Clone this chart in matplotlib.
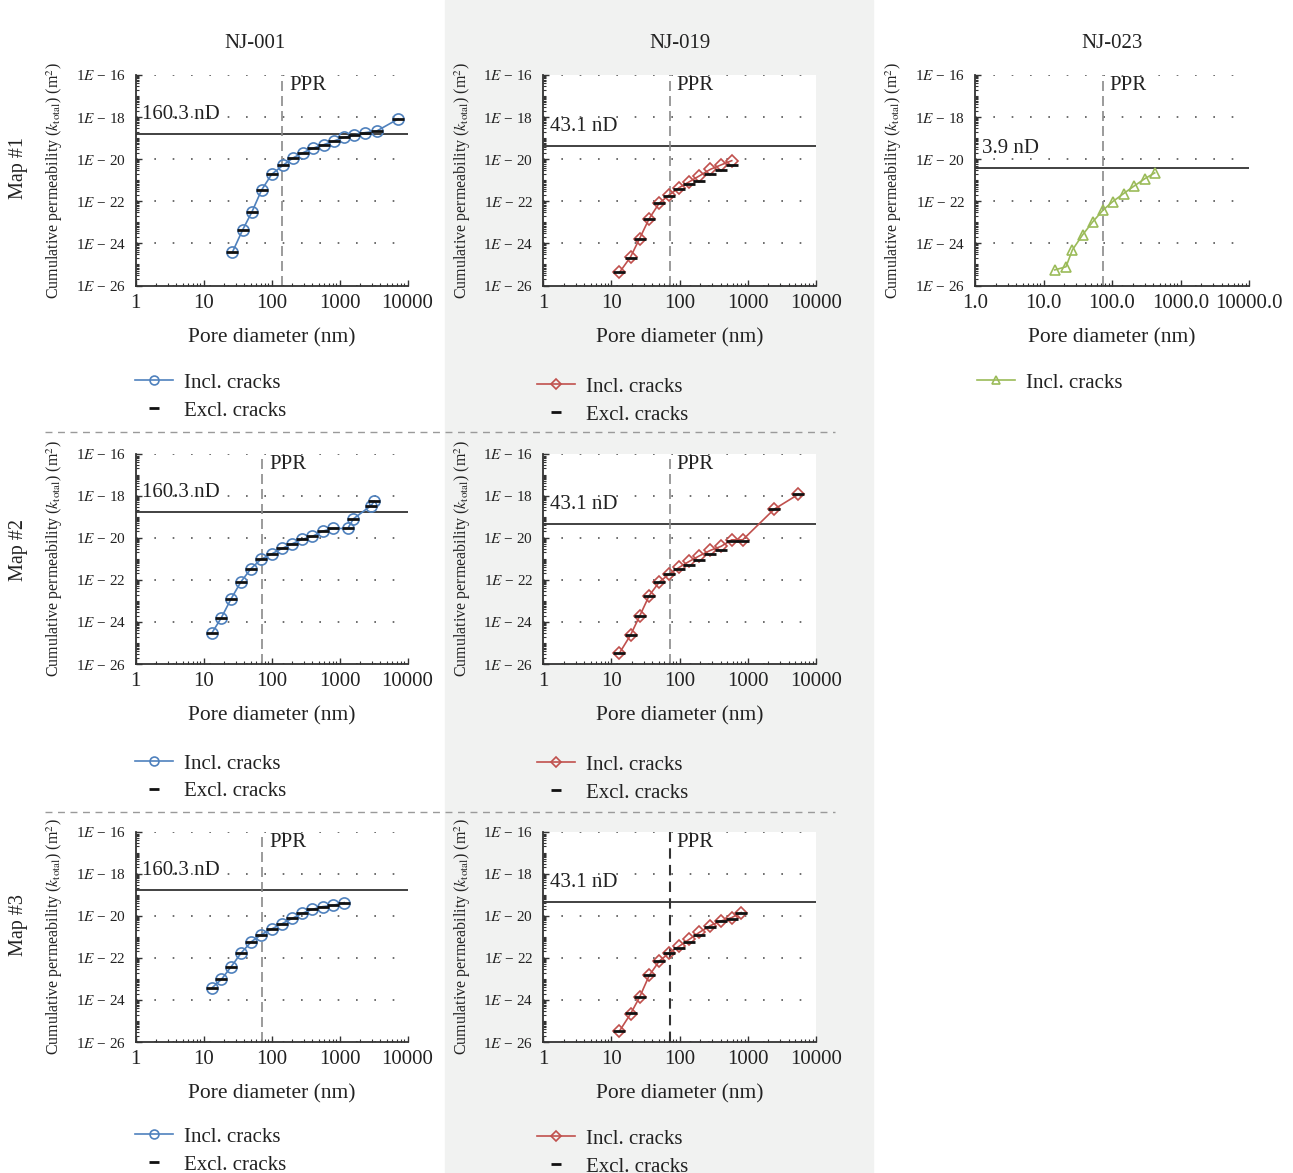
import numpy as np
import matplotlib
matplotlib.use("Agg")
import matplotlib.pyplot as plt
from matplotlib.ticker import FixedLocator, LogLocator, FuncFormatter, NullFormatter
from matplotlib.patches import Rectangle
from matplotlib.lines import Line2D

plt.rcParams['font.family'] = ['Liberation Serif', 'DejaVu Serif']
plt.rcParams['mathtext.fontset'] = 'stix'

W, H = 1293, 1173

# pore diameters (nm) and log10 of cumulative permeability (m^2)
nj001_m1_d = [26.5, 37.6, 51.6, 71.6, 100.5, 147.6, 207, 291, 413, 586, 832, 1167, 1660, 2354, 3532, 7290]
nj001_m1_incl = [-24.43, -23.36, -22.50, -21.46, -20.72, -20.29, -19.94, -19.69, -19.47, -19.31,
                 -19.13, -18.96, -18.85, -18.74, -18.66, -18.09]
nj001_m1_excl = nj001_m1_incl

nj019_m1_d = [13.2, 19.2, 26, 36, 50.4, 70.6, 98.9, 138, 196, 284, 407, 583]
nj019_m1_incl = [-25.38, -24.64, -23.77, -22.82, -22.09, -21.70, -21.35, -21.08, -20.79, -20.48, -20.27, -20.07]
nj019_m1_excl = [-25.38, -24.69, -23.80, -22.82, -22.09, -21.73, -21.43, -21.20, -21.02, -20.68, -20.49, -20.27]

nj023_m1_d = [14.6, 21.3, 26.4, 37.3, 52.2, 73.9, 103, 148, 209, 300, 420]
nj023_m1_incl = [-25.26, -25.11, -24.31, -23.59, -22.98, -22.42, -22.01, -21.63, -21.28, -20.93, -20.65]

nj001_m2_d = [13.2, 18.1, 25.4, 35.6, 49.9, 69.8, 102, 143, 201, 281, 398, 564, 799, 1324, 1603, 2904, 3251]
nj001_m2_incl = [-24.54, -23.83, -22.91, -22.09, -21.47, -21.03, -20.76, -20.51, -20.29, -20.08, -19.94,
                 -19.69, -19.56, -19.56, -19.10, -18.48, -18.26]
nj001_m2_excl = nj001_m2_incl

nj019_m2_d = [13.2, 19.2, 26, 36, 50.4, 70.6, 98.9, 138, 196, 284, 407, 583, 845, 2428, 5512]
nj019_m2_incl = [-25.48, -24.62, -23.73, -22.75, -22.11, -21.73, -21.41, -21.13, -20.86, -20.60, -20.41,
                 -20.10, -20.10, -18.65, -17.94]
nj019_m2_excl = [-25.48, -24.62, -23.73, -22.75, -22.11, -21.73, -21.49, -21.29, -21.05, -20.78, -20.57,
                 -20.16, -20.16, -18.65, -17.94]

nj001_m3_d = [13.3, 18.3, 25.4, 36, 50.4, 70.6, 102, 143, 201, 281, 398, 564, 799, 1172]
nj001_m3_incl = [-23.43, -23.03, -22.43, -21.76, -21.24, -20.90, -20.62, -20.38, -20.13, -19.89, -19.70,
                 -19.57, -19.51, -19.38]
nj001_m3_excl = nj001_m3_incl

nj019_m3_d = [13.2, 19.2, 26, 36, 50.4, 70.6, 98.9, 138, 196, 284, 407, 583, 799]
nj019_m3_incl = [-25.48, -24.66, -23.87, -22.84, -22.16, -21.77, -21.45, -21.13, -20.79, -20.47, -20.25,
                 -20.09, -19.85]
nj019_m3_excl = [-25.48, -24.63, -23.87, -22.84, -22.16, -21.77, -21.53, -21.24, -20.91, -20.55, -20.25,
                 -20.15, -19.85]

# sample permeability (nD) and pore-size threshold (nm)
perm_nd = {'NJ-001': 160.3, 'NJ-019': 43.1, 'NJ-023': 3.9}
ppr = {('NJ-001', 1): 144, ('NJ-001', 2): 73, ('NJ-001', 3): 73,
       ('NJ-019', 1): 72, ('NJ-019', 2): 72, ('NJ-019', 3): 72, ('NJ-023', 1): 73}

blue, red, green = '#4f81bd', '#c0504d', '#9bbb59'
ND_TO_M2 = 1e-9 * 9.869233e-13
TXT = '#222222'

fig = plt.figure(figsize=(W / 100, H / 100), dpi=100)
fig.patches.append(Rectangle((445 / W, 0), (873 - 445) / W, 1, transform=fig.transFigure,
                             color='#f1f2f1', zorder=-5))
for yy in (432, 812):
    fig.add_artist(Line2D([45 / W, 835 / W], [1 - yy / H] * 2, ls=(0, (5, 4)), color='#9a9a9a', lw=1.0))


def rect(l, t, r, b):
    return [l / W, 1 - b / H, (r - l) / W, (b - t) / H]


def panel(box, sample, m, d, incl, excl, color, marker, ms, leg_xy, decimals=False, ppr_dark=False):
    ax = fig.add_axes(rect(*box))
    ax.set_xscale('log')
    ax.set_yscale('log')
    ax.set_xlim(1, 10000)
    ax.set_ylim(1e-26, 1e-16)
    for s in ('top', 'right'):
        ax.spines[s].set_visible(False)
    for s in ('left', 'bottom'):
        ax.spines[s].set_color('#333333')
        ax.spines[s].set_linewidth(1.3)

    ax.yaxis.set_major_locator(FixedLocator([10.0 ** e for e in range(-26, -15, 2)]))
    ax.yaxis.set_minor_locator(LogLocator(base=10, subs=np.arange(1, 10), numticks=100))
    ax.yaxis.set_major_formatter(FuncFormatter(
        lambda v, p: "1$\\mathit{E}$ \u2212 %d" % (-int(round(np.log10(v))))))
    ax.yaxis.set_minor_formatter(NullFormatter())
    ax.xaxis.set_major_locator(FixedLocator([1, 10, 100, 1000, 10000]))
    ax.xaxis.set_minor_locator(LogLocator(base=10, subs=np.arange(2, 10), numticks=100))
    fmt = (lambda v, p: "%.1f" % v) if decimals else (lambda v, p: "%d" % v)
    ax.xaxis.set_major_formatter(FuncFormatter(fmt))
    ax.xaxis.set_minor_formatter(NullFormatter())
    ax.tick_params(which='both', direction='in', colors='#333333')
    ax.tick_params(which='major', length=4, width=1)
    ax.tick_params(which='minor', length=2.5, width=0.8)
    ax.tick_params(axis='y', labelsize=11, pad=7, labelcolor=TXT)
    ax.tick_params(axis='x', labelsize=15, pad=6, labelcolor=TXT)
    ax.yaxis.grid(True, which='major', ls=(0, (1, 10)), color='#555555', lw=1.2)

    ax.set_xlabel('Pore diameter (nm)', fontsize=15.5, color=TXT, labelpad=11)
    ax.set_ylabel(r"Cumulative permeability ($k_{\rm total}$) (m$^2$)", fontsize=11.5, color=TXT)
    ax.yaxis.set_label_coords(-0.258, 0.5)

    k = perm_nd[sample] * ND_TO_M2
    ax.axhline(k, color='#333333', lw=1.3)
    ax.annotate('%s nD' % perm_nd[sample], xy=(0.025, k), xycoords=('axes fraction', 'data'),
                xytext=(0, 7.5), textcoords='offset points', fontsize=15, va='bottom', color=TXT)
    p = ppr[(sample, m)]
    if ppr_dark:
        ax.axvline(p, color='#333333', lw=1.5, ls=(0, (5, 3)))
    else:
        ax.axvline(p, color='#8a8a8a', lw=1.2, ls=(0, (6, 3)))
    ax.annotate('PPR', xy=(p, 1.0), xycoords=('data', 'axes fraction'), xytext=(5, -1),
                textcoords='offset points', fontsize=15, va='top', color=TXT)

    handles = []
    h1, = ax.plot(d, 10.0 ** np.array(incl), color=color, lw=1.2, marker=marker, ms=ms,
                  mfc='none', mec=color, mew=1.2, label='Incl. cracks', zorder=3)
    handles.append(h1)
    if excl is not None:
        h2, = ax.plot(d, 10.0 ** np.array(excl), ls='none', marker='_', ms=9, mew=2.0,
                      color='#111111', label='Excl. cracks', zorder=4)
        handles.append(h2)
    ax.legend(handles=handles, loc='upper left', bbox_to_anchor=(leg_xy[0] / W, 1 - leg_xy[1] / H),
              bbox_transform=fig.transFigure, frameon=False, fontsize=15, handlelength=1.8,
              handletextpad=0.55, labelspacing=0.4, borderpad=0, borderaxespad=0, markerscale=0.8,
              labelcolor=TXT)
    return ax


c1, c2, c3 = (135.5, 407.5), (543, 816), (975, 1249)
r1, r2, r3 = (75, 285.5), (453.5, 664), (831.5, 1042)

panel((c1[0], r1[0], c1[1], r1[1]), 'NJ-001', 1, nj001_m1_d, nj001_m1_incl, nj001_m1_excl,
      blue, 'o', 8, (135, 373))
panel((c2[0], r1[0], c2[1], r1[1]), 'NJ-019', 1, nj019_m1_d, nj019_m1_incl, nj019_m1_excl,
      red, 'D', 6, (537, 377))
panel((c3[0], r1[0], c3[1], r1[1]), 'NJ-023', 1, nj023_m1_d, nj023_m1_incl, None,
      green, '^', 7.5, (977, 373), decimals=True)
panel((c1[0], r2[0], c1[1], r2[1]), 'NJ-001', 2, nj001_m2_d, nj001_m2_incl, nj001_m2_excl,
      blue, 'o', 8, (135, 754))
panel((c2[0], r2[0], c2[1], r2[1]), 'NJ-019', 2, nj019_m2_d, nj019_m2_incl, nj019_m2_excl,
      red, 'D', 6, (537, 755))
panel((c1[0], r3[0], c1[1], r3[1]), 'NJ-001', 3, nj001_m3_d, nj001_m3_incl, nj001_m3_excl,
      blue, 'o', 8, (135, 1127))
panel((c2[0], r3[0], c2[1], r3[1]), 'NJ-019', 3, nj019_m3_d, nj019_m3_incl, nj019_m3_excl,
      red, 'D', 6, (537, 1129), ppr_dark=True)

for name, xc in (('NJ-001', 255), ('NJ-019', 680), ('NJ-023', 1112)):
    fig.text(xc / W, 1 - 44 / H, name, ha='center', va='center', fontsize=15, color=TXT)
for name, yc in (('Map #1', 168), ('Map #2', 550), ('Map #3', 925)):
    fig.text(18 / W, 1 - yc / H, name, ha='center', va='center', rotation=90, fontsize=14.5, color=TXT)

fig.savefig('out.png', dpi=100)
